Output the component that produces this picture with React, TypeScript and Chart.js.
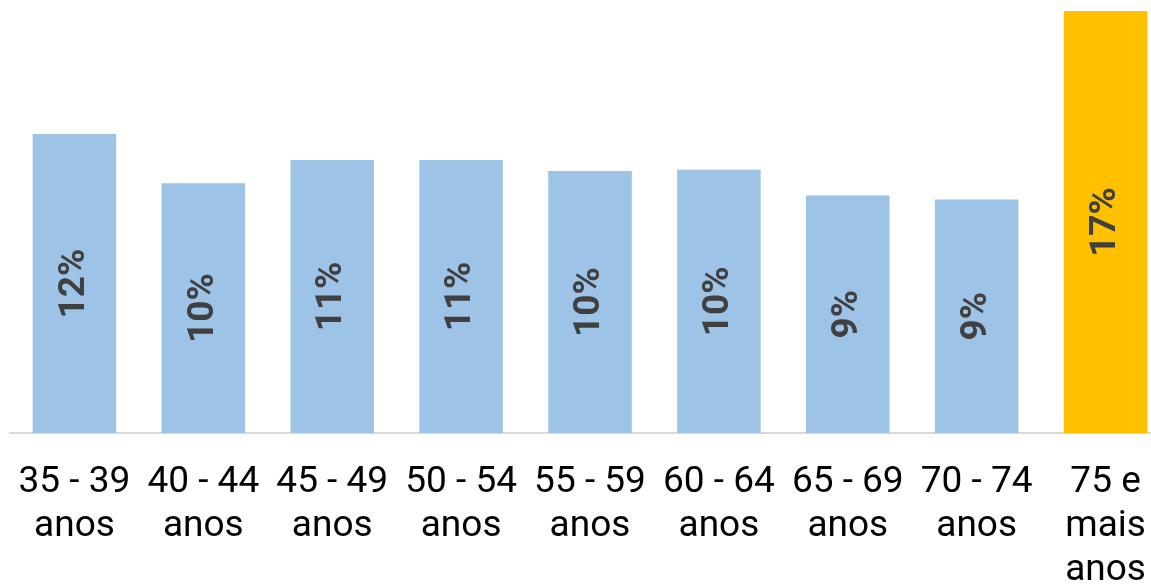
import React, { useEffect, useRef } from "react";
import { Chart, registerables } from "chart.js";

Chart.register(...registerables);

const categories: string[][] = [
  ["35 - 39", "anos"],
  ["40 - 44", "anos"],
  ["45 - 49", "anos"],
  ["50 - 54", "anos"],
  ["55 - 59", "anos"],
  ["60 - 64", "anos"],
  ["65 - 69", "anos"],
  ["70 - 74", "anos"],
  ["75 e", "mais", "anos"],
];
const values: number[] = [12.04, 10.06, 11.0, 11.0, 10.55, 10.6, 9.57, 9.4, 17.0];
const valueLabels: string[] = ["12%", "10%", "11%", "11%", "10%", "10%", "9%", "9%", "17%"];
const barColors: string[] = [
  "#9DC3E6", "#9DC3E6", "#9DC3E6", "#9DC3E6", "#9DC3E6",
  "#9DC3E6", "#9DC3E6", "#9DC3E6", "#FFC000",
];

const FONT = "Roboto, 'Noto Sans', sans-serif";

const labelPlugin = {
  id: "rotatedLabels",
  afterDatasetsDraw(chart: any) {
    const ctx = chart.ctx;
    const meta = chart.getDatasetMeta(0);
    ctx.save();
    ctx.font = `bold 37px ${FONT}`;
    ctx.fillStyle = "#404040";
    ctx.textAlign = "center";
    ctx.textBaseline = "middle";
    meta.data.forEach((el: any, i: number) => {
      const cx = el.x;
      const cy = (el.y + el.base) / 2;
      ctx.save();
      ctx.translate(cx, cy);
      ctx.rotate(-Math.PI / 2);
      ctx.fillText(valueLabels[i], 0, 0);
      ctx.restore();
    });
    ctx.restore();
  },
};

export default function App() {
  const ref = useRef<HTMLCanvasElement | null>(null);
  useEffect(() => {
    if (!ref.current) return;
    const chart = new Chart(ref.current, {
      type: "bar",
      data: {
        labels: categories,
        datasets: [
          {
            data: values,
            backgroundColor: barColors,
            borderWidth: 0,
            barPercentage: 0.648,
            categoryPercentage: 1,
          },
        ],
      },
      options: {
        responsive: false,
        animation: false,
        layout: { padding: { left: 10, right: 0, top: 0, bottom: 0 } },
        plugins: {
          legend: { display: false },
          tooltip: { enabled: false },
          title: { display: false },
        },
        scales: {
          x: {
            grid: { display: false, drawTicks: false },
            border: { display: true, color: "#D9D9D9", width: 2 },
            ticks: {
              color: "#000000",
              padding: 28,
              maxRotation: 0,
              autoSkip: false,
              font: { family: FONT, size: 37, lineHeight: 44 / 37 },
            },
            afterFit: (scale: any) => {
              scale.paddingLeft = 0;
              scale.paddingRight = 0;
              scale.height = 158;
            },
          },
          y: {
            display: false,
            min: 0,
            max: 17.44,
          },
        },
      },
      plugins: [labelPlugin],
    });
    return () => chart.destroy();
  }, []);
  return (
    <div
      style={{
        position: "absolute",
        left: 0,
        top: 0,
        width: 1151,
        height: 587,
        overflow: "hidden",
        background: "#ffffff",
      }}
    >
      <canvas ref={ref} width={1170} height={591} style={{ display: "block" }} />
    </div>
  );
}
